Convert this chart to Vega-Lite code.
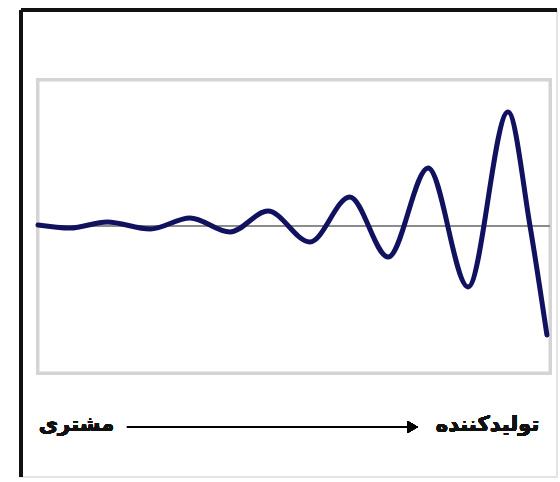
{
  "$schema": "https://vega.github.io/schema/vega-lite/v6.json",
  "autosize": {"type": "none"},
  "width": 536,
  "height": 467,
  "padding": {"left": 21, "top": 10, "right": 3, "bottom": 5},
  "background": "white",
  "config": {"view": {"stroke": "#dcdcdc", "strokeWidth": 1.5}},
  "data": {
    "values": [
      {"t": 0, "v": 0.7},
      {"t": 6.25, "v": -1.4},
      {"t": 13.5, "v": 2.7},
      {"t": 21.9, "v": -2.0},
      {"t": 29.7, "v": 5.5},
      {"t": 37.5, "v": -4.1},
      {"t": 44.9, "v": 10.2},
      {"t": 53.1, "v": -10.9},
      {"t": 60.9, "v": 19.8},
      {"t": 68.4, "v": -21.2},
      {"t": 76.2, "v": 39.6},
      {"t": 84.0, "v": -41.6},
      {"t": 91.8, "v": 77.8},
      {"t": 96.1, "v": 0},
      {"t": 99.4, "v": -74.4}
    ]
  },
  "layer": [
    {
      "mark": {"type": "rect", "fill": "white", "stroke": "#d4d4d4", "strokeWidth": 3},
      "encoding": {
        "x": {"datum": 0, "type": "quantitative", "scale": {"domain": [-3.32, 101.37], "nice": false, "zero": false}, "axis": null},
        "x2": {"datum": 100},
        "y": {"datum": -100.3, "type": "quantitative", "scale": {"domain": [-171.33, 147.44], "nice": false, "zero": false}, "axis": null},
        "y2": {"datum": 99.7}
      }
    },
    {
      "mark": {"type": "rule", "color": "#8c8c8c", "strokeWidth": 2},
      "encoding": {
        "x": {"datum": 0, "type": "quantitative"},
        "x2": {"datum": 100},
        "y": {"datum": 0, "type": "quantitative"}
      }
    },
    {
      "mark": {"type": "line", "interpolate": "monotone", "color": "#10125f", "strokeWidth": 5, "strokeCap": "round"},
      "encoding": {
        "x": {"field": "t", "type": "quantitative"},
        "y": {"field": "v", "type": "quantitative"}
      }
    },
    {
      "mark": {"type": "rule", "color": "#111111", "strokeWidth": 2.5},
      "encoding": {
        "x": {"datum": -3.32, "type": "quantitative"},
        "y": {"datum": -171.33, "type": "quantitative"},
        "y2": {"datum": 147.44}
      }
    },
    {
      "mark": {"type": "rule", "color": "#111111", "strokeWidth": 2.5},
      "encoding": {
        "x": {"datum": -3.32, "type": "quantitative"},
        "x2": {"datum": 101.37},
        "y": {"datum": 147.44, "type": "quantitative"}
      }
    },
    {
      "mark": {"type": "rule", "color": "#000000", "strokeWidth": 2},
      "encoding": {
        "x": {"datum": 17.38, "type": "quantitative"},
        "x2": {"datum": 72.0},
        "y": {"datum": -137.2, "type": "quantitative"}
      }
    },
    {
      "mark": {"type": "point", "shape": "triangle-right", "filled": true, "color": "#000000", "size": 140, "opacity": 1},
      "encoding": {
        "x": {"datum": 73.2, "type": "quantitative"},
        "y": {"datum": -137.2, "type": "quantitative"}
      }
    },
    {
      "mark": {"type": "text", "font": "DejaVu Sans", "fontSize": 21, "fontWeight": "bold", "color": "#111111", "baseline": "middle"},
      "encoding": {
        "x": {"datum": 7.52, "type": "quantitative"},
        "y": {"datum": -136.0, "type": "quantitative"},
        "text": {"value": "مشتری"}
      }
    },
    {
      "mark": {"type": "text", "font": "DejaVu Sans", "fontSize": 21, "fontWeight": "bold", "color": "#111111", "baseline": "middle"},
      "encoding": {
        "x": {"datum": 87.8, "type": "quantitative"},
        "y": {"datum": -136.0, "type": "quantitative"},
        "text": {"value": "تولیدکننده"}
      }
    }
  ]
}
